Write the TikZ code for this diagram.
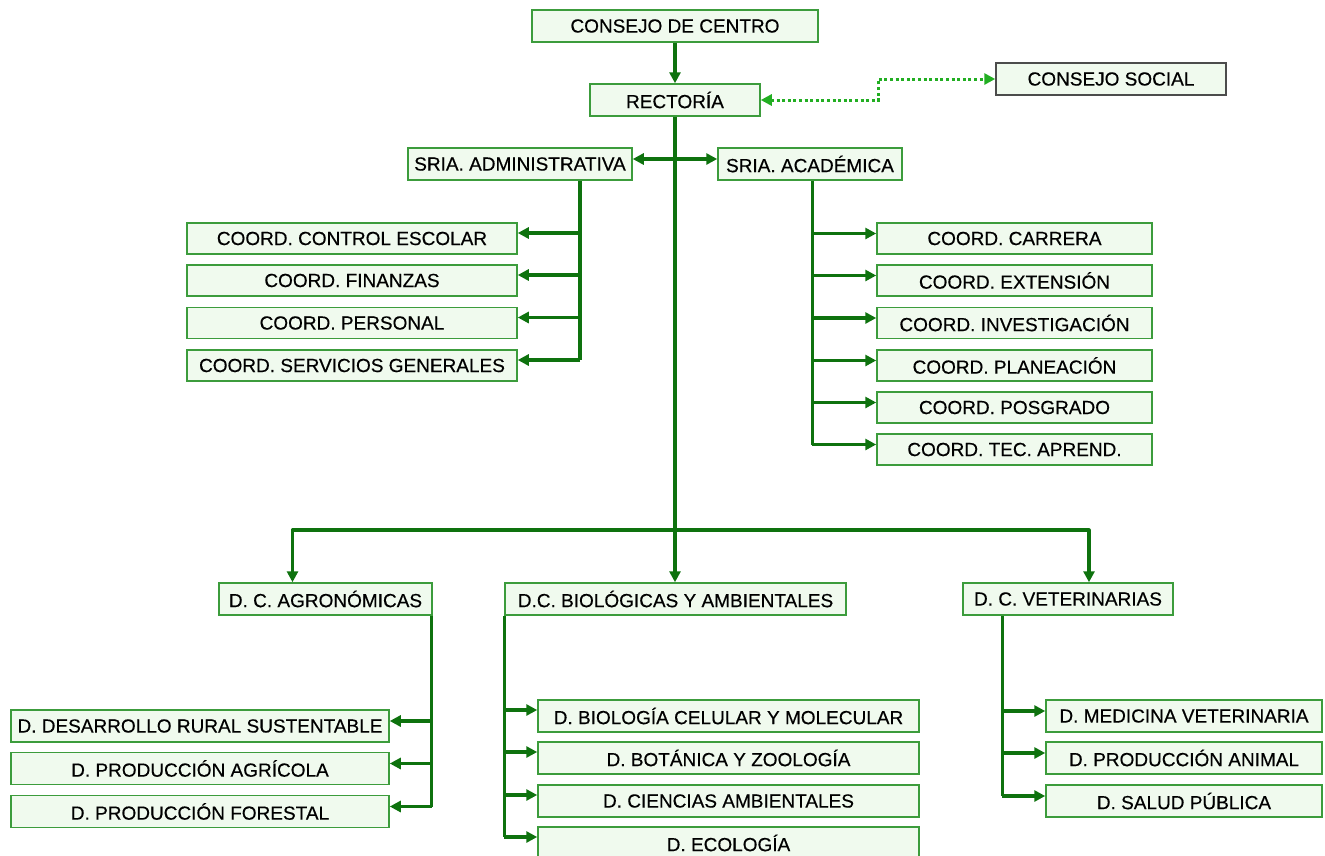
\documentclass[tikz,border=0pt]{standalone}
\usepackage{fontspec}
\setmainfont{Liberation Sans}
\newfontfamily\orgfont{Liberation Sans}[FakeBold=0.4]
\usetikzlibrary{arrows.meta}
\definecolor{boxline}{HTML}{3C9C3C}
\definecolor{boxfill}{HTML}{F0FAEE}
\definecolor{conn}{HTML}{0E720E}
\definecolor{dotc}{HTML}{22AE22}
\tikzset{
  orgbox/.style={draw=boxline, fill=boxfill, line width=1.5pt, inner sep=0pt,
    minimum height=32pt, font=\orgfont\fontsize{19}{21}\selectfont, text=black},
  socbox/.style={orgbox, draw=black!70},
  link/.style={draw=conn, line width=3.2pt, line join=round,
    arrows={-Triangle[length=11pt,width=11pt]}},
  plainlink/.style={draw=conn, line width=3.2pt, line join=round},
  dotlink/.style={draw=dotc, line width=3pt, dash pattern=on 3pt off 2.6pt,
    arrows={Triangle[length=11pt,width=11pt]-Triangle[length=11pt,width=11pt]}},
}
\begin{document}
\begin{tikzpicture}[x=1pt,y=-1pt]
\useasboundingbox (0,0) rectangle (1325,855);
% top
\node[orgbox, minimum width=286pt] (cc) at (675,26) {CONSEJO DE CENTRO};
\node[orgbox, minimum width=170pt] (rec) at (675,100) {RECTORÍA};
\node[socbox, minimum width=230pt] (cs) at (1111,79) {CONSEJO SOCIAL};
\node[orgbox, minimum width=224pt] (sadm) at (520,164) {SRIA. ADMINISTRATIVA};
\node[orgbox, minimum width=184pt] (sac) at (810,164) {SRIA. ACADÉMICA};
% administrative coordinations
\node[orgbox, minimum width=330pt, minimum height=31pt] (l1) at (352,238.5) {COORD. CONTROL ESCOLAR};
\node[orgbox, minimum width=330pt, minimum height=31pt] (l2) at (352,280.5) {COORD. FINANZAS};
\node[orgbox, minimum width=330pt, minimum height=31pt] (l3) at (352,323) {COORD. PERSONAL};
\node[orgbox, minimum width=330pt, minimum height=31pt] (l4) at (352,365.5) {COORD. SERVICIOS GENERALES};
% academic coordinations
\node[orgbox, minimum width=275pt, minimum height=31pt] (r1) at (1014.5,238.5) {COORD. CARRERA};
\node[orgbox, minimum width=275pt, minimum height=31pt] (r2) at (1014.5,280.5) {COORD. EXTENSIÓN};
\node[orgbox, minimum width=275pt, minimum height=31pt] (r3) at (1014.5,323) {COORD. INVESTIGACIÓN};
\node[orgbox, minimum width=275pt, minimum height=31pt] (r4) at (1014.5,365.5) {COORD. PLANEACIÓN};
\node[orgbox, minimum width=275pt, minimum height=31pt] (r5) at (1014.5,407.5) {COORD. POSGRADO};
\node[orgbox, minimum width=275pt, minimum height=31pt] (r6) at (1014.5,449.5) {COORD. TEC. APREND.};
% divisions
\node[orgbox, minimum width=213pt] (agr) at (325.5,599) {D. C. AGRONÓMICAS};
\node[orgbox, minimum width=341pt] (bio) at (675.5,599) {D.C. BIOLÓGICAS Y AMBIENTALES};
\node[orgbox, minimum width=210pt] (vet) at (1068,599) {D. C. VETERINARIAS};
% departments
\node[orgbox, minimum width=378pt] (a1) at (200,726) {D. DESARROLLO RURAL SUSTENTABLE};
\node[orgbox, minimum width=378pt] (a2) at (200,768.5) {D. PRODUCCIÓN AGRÍCOLA};
\node[orgbox, minimum width=378pt] (a3) at (200,811.5) {D. PRODUCCIÓN FORESTAL};
\node[orgbox, minimum width=381pt] (b1) at (728.5,716) {D. BIOLOGÍA CELULAR Y MOLECULAR};
\node[orgbox, minimum width=381pt] (b2) at (728.5,758) {D. BOTÁNICA Y ZOOLOGÍA};
\node[orgbox, minimum width=381pt] (b3) at (728.5,801) {D. CIENCIAS AMBIENTALES};
\node[orgbox, minimum width=381pt] (b4) at (728.5,843) {D. ECOLOGÍA};
\node[orgbox, minimum width=276pt] (v1) at (1184,716) {D. MEDICINA VETERINARIA};
\node[orgbox, minimum width=276pt] (v2) at (1184,758) {D. PRODUCCIÓN ANIMAL};
\node[orgbox, minimum width=276pt] (v3) at (1184,801) {D. SALUD PÚBLICA};

% top connectors
\draw[link] (cc.south) -- (rec.north);
\draw[dotlink] (rec.east) -- ++(118,0) |- (cs.west);
\draw[link] (rec.south) -- (rec.south |- bio.north);
\draw[link, arrows={Triangle[length=11pt,width=11pt]-Triangle[length=11pt,width=11pt]}]
  ([yshift=5pt]sadm.east) -- ([yshift=5pt]sac.west);

% administrative branch
\coordinate (la) at ([xshift=60pt]sadm.south);
\foreach \n in {l1,l2,l3,l4}{\coordinate (\n e) at ([yshift=5.5pt]\n.east);}
\draw[plainlink] (la) -- (la |- l4e);
\foreach \n in {l1,l2,l3,l4}{\draw[link] (la |- \n e) -- (\n e);}

% academic branch
\coordinate (ra) at ([xshift=95pt]sac.south west);
\foreach \n in {r1,r2,r3,r4,r5,r6}{\coordinate (\n w) at ([yshift=5pt]\n.west);}
\draw[plainlink] (ra) -- (ra |- r6w);
\foreach \n in {r1,r2,r3,r4,r5,r6}{\draw[link] (ra |- \n w) -- (\n w);}

% division branch
\coordinate (hb) at (675,530);
\draw[link] (hb) -| ([xshift=-33pt]agr.north);
\draw[link] (hb) -| ([xshift=21pt]vet.north);

% agronomy departments
\coordinate (aa) at ([xshift=-1pt]agr.south east);
\foreach \n in {a1,a2,a3}{\coordinate (\n e) at ([yshift=5pt]\n.east);}
\draw[plainlink] (aa) -- (aa |- a3e);
\foreach \n in {a1,a2,a3}{\draw[link] (aa |- \n e) -- (\n e);}

% biology departments
\coordinate (ba) at (bio.south west);
\foreach \n in {b1,b2,b3,b4}{\coordinate (\n w) at ([yshift=6pt]\n.west);}
\draw[plainlink] (ba) -- (ba |- b4w);
\foreach \n in {b1,b2,b3,b4}{\draw[link] (ba |- \n w) -- (\n w);}

% veterinary departments
\coordinate (va) at ([xshift=40pt]vet.south west);
\foreach \n in {v1,v2,v3}{\coordinate (\n w) at ([yshift=5pt]\n.west);}
\draw[plainlink] (va) -- (va |- v3w);
\foreach \n in {v1,v2,v3}{\draw[link] (va |- \n w) -- (\n w);}
\end{tikzpicture}
\end{document}
